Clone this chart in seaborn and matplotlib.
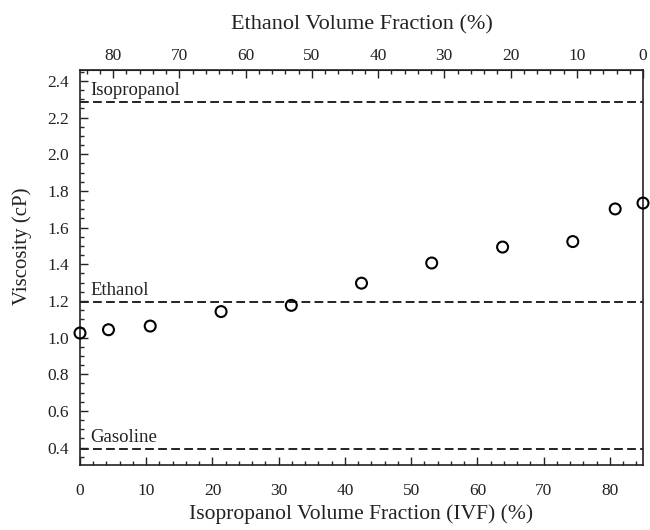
import matplotlib
matplotlib.use("Agg")
import matplotlib.pyplot as plt
import seaborn as sns
import numpy as np
import pandas as pd
from matplotlib.ticker import MultipleLocator

ivf = [0, 4.3, 10.6, 21.3, 31.9, 42.5, 53.1, 63.8, 74.4, 80.8, 85]
viscosity = [1.025, 1.043, 1.063, 1.142, 1.176, 1.297, 1.407, 1.494, 1.524, 1.702, 1.734]
ref_names = ["Isopropanol", "Ethanol", "Gasoline"]
ref_values = [2.285, 1.192, 0.393]
x_ticks = [0, 10, 20, 30, 40, 50, 60, 70, 80]
top_ticks = [0, 10, 20, 30, 40, 50, 60, 70, 80]
y_ticks = [0.4, 0.6, 0.8, 1.0, 1.2, 1.4, 1.6, 1.8, 2.0, 2.2, 2.4]

sns.set_style("ticks")
plt.rcParams['font.family'] = ['Liberation Serif', 'DejaVu Serif']
plt.rcParams['mathtext.fontset'] = 'stix'

df = pd.DataFrame({"IVF": ivf, "Viscosity": viscosity})

fig = plt.figure(figsize=(6.5, 5.3), dpi=100)
ax = fig.add_axes([80/650, 1-465/530, (643-80)/650, (465-70)/530])

for name, val in zip(ref_names, ref_values):
    ax.axhline(val, color="#222222", lw=1.4, ls=(0, (4.5, 2.2)), zorder=1)
    ax.text(1.6, val + 0.018, name, fontsize=13.5, color="#222222", va="bottom", ha="left")

sns.scatterplot(data=df, x="IVF", y="Viscosity", ax=ax, marker="o", s=62,
                facecolor="none", edgecolor="black", linewidth=1.5, zorder=3, clip_on=False)

ax.set_xlim(0, 85)
ax.set_ylim(0.305, 2.46)
ax.set_xticks(x_ticks)
ax.set_yticks(y_ticks)
ax.set_yticklabels([f"{v:.1f}" for v in y_ticks])
ax.xaxis.set_minor_locator(MultipleLocator(2))
ax.yaxis.set_minor_locator(MultipleLocator(0.05))
ax.tick_params(axis="both", which="major", direction="in", length=6, width=1.0, labelsize=12.5, colors="#222222")
ax.tick_params(axis="both", which="minor", direction="in", length=3, width=1.0)
ax.tick_params(axis="x", which="major", pad=13)
ax.tick_params(axis="y", which="major", pad=8)
ax.tick_params(axis="x", which="both", top=False)
ax.tick_params(axis="y", which="both", right=False)
for sp in ax.spines.values():
    sp.set_visible(True)
    sp.set_linewidth(1.2)
    sp.set_color("#222222")

ax.set_xlabel("Isopropanol Volume Fraction (IVF) (%)", fontsize=15.5, color="#222222", labelpad=4)
ax.set_ylabel("Viscosity (cP)", fontsize=15, color="#222222")
ax.yaxis.set_label_coords(-0.085, 0.555)

sec = ax.secondary_xaxis("top", functions=(lambda x: 85 - x, lambda x: 85 - x))
sec.set_xticks(top_ticks)
sec.xaxis.set_minor_locator(MultipleLocator(2))
sec.tick_params(axis="x", which="major", direction="in", length=6, width=1.0, labelsize=12.5, colors="#222222", pad=4)
sec.tick_params(axis="x", which="minor", direction="in", length=3, width=1.0)
sec.set_xlabel("Ethanol Volume Fraction (%)", fontsize=16, color="#222222", labelpad=14)

fig.savefig("out.png", dpi=100, facecolor="white")
